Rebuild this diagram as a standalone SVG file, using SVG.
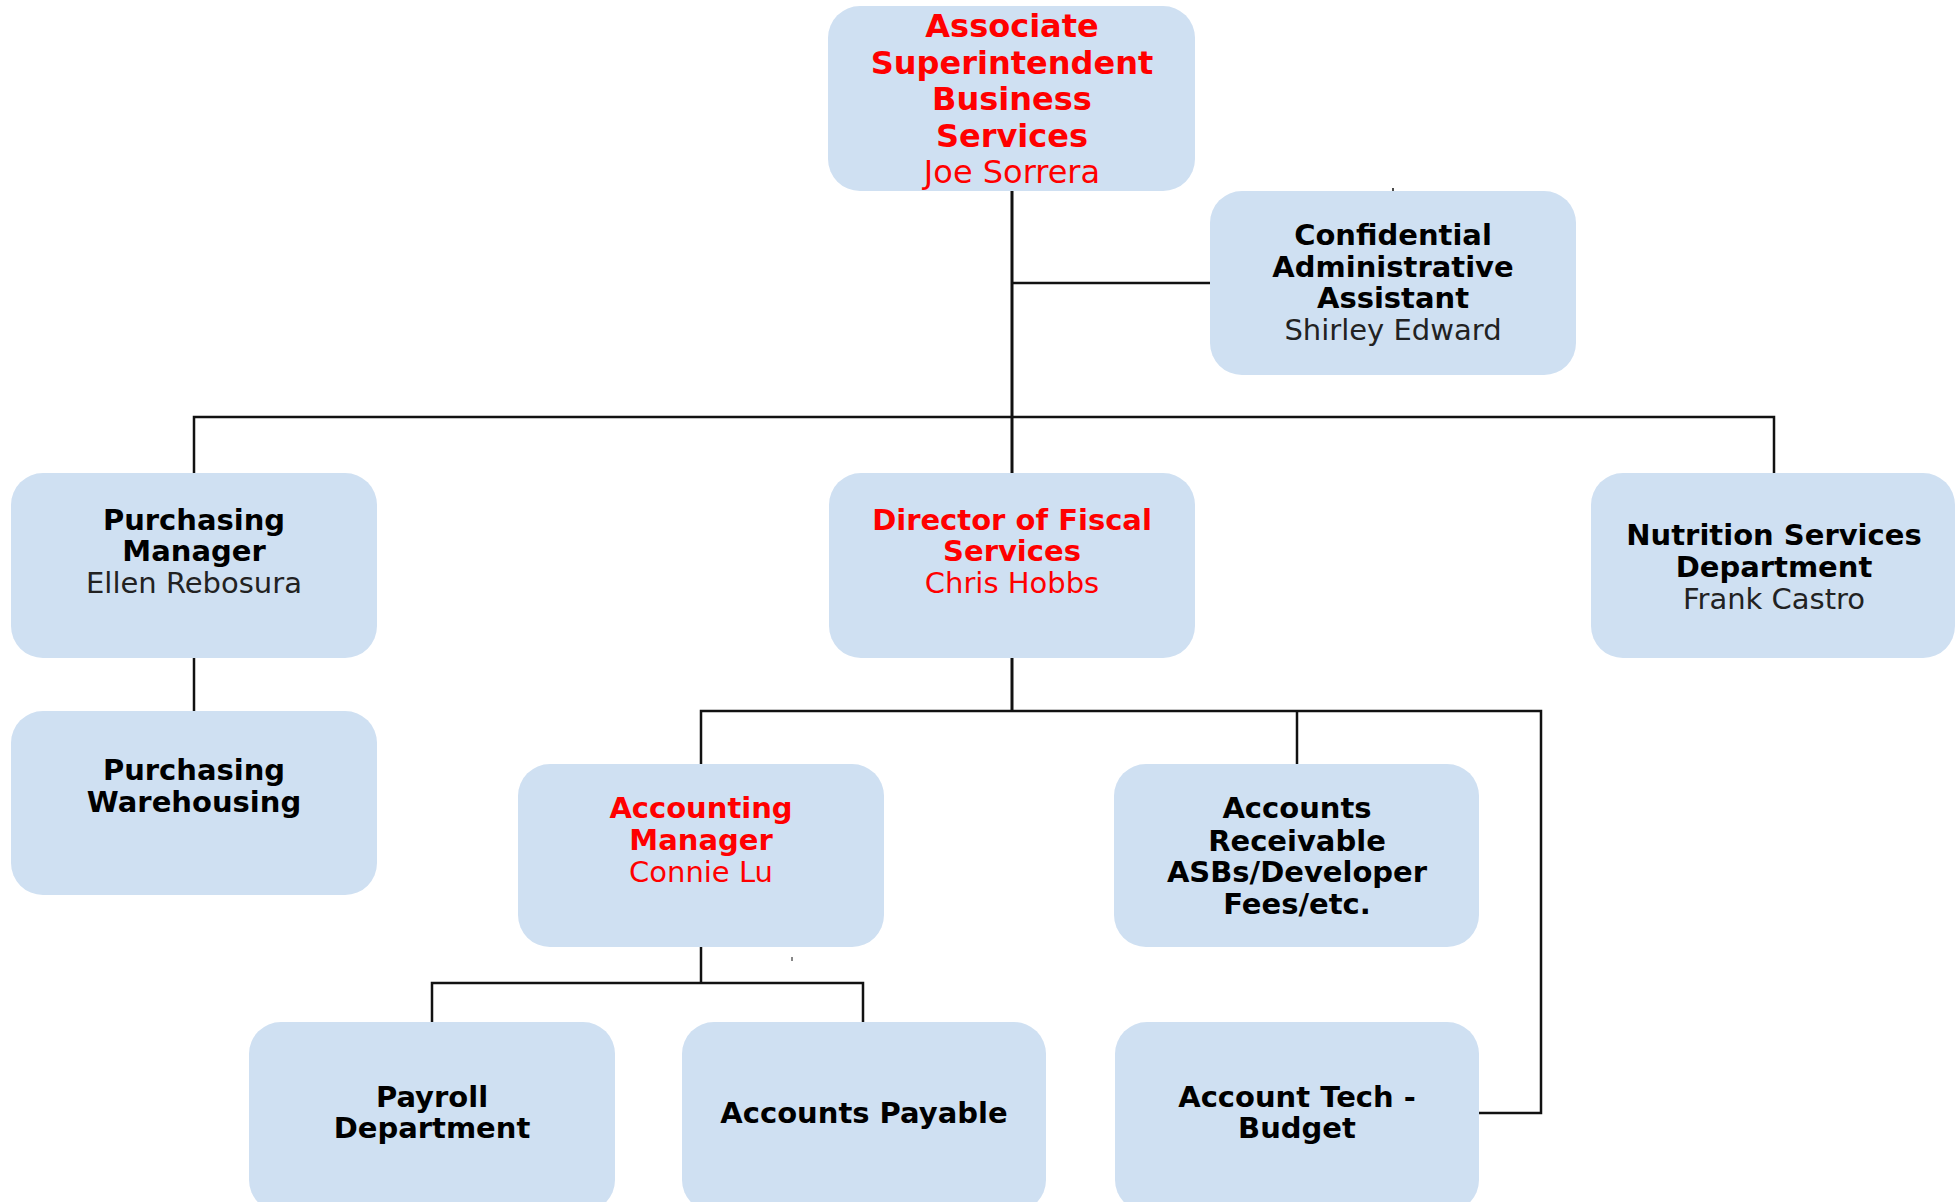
<svg xmlns="http://www.w3.org/2000/svg" width="1957" height="1202" viewBox="0 0 1957 1202">
<style>
.box{fill:#cfe0f2;}
.t{font-family:"DejaVu Sans","Verdana",sans-serif;font-size:29px;text-anchor:middle;}
.b{font-weight:bold;fill:#000;}
.n{fill:#222;}
.r{fill:#ff0000;}
.top{font-size:32px;}
.c{fill:none;stroke:#111;stroke-width:2.5;}
</style>
<rect width="1957" height="1202" fill="#fff"/>
<g id="connectors" class="c">
<line x1="1012" y1="191" x2="1012" y2="473" stroke-width="3"/>
<line x1="1012" y1="283" x2="1210" y2="283"/>
<polyline points="194,473 194,417 1774,417 1774,473"/>
<line x1="194" y1="658" x2="194" y2="711"/>
<line x1="1012" y1="658" x2="1012" y2="711" stroke-width="3"/>
<polyline points="701,764 701,711 1541,711 1541,1113 1479,1113"/>
<line x1="1297" y1="711" x2="1297" y2="764"/>
<line x1="701" y1="947" x2="701" y2="983"/>
<polyline points="432,1022 432,983 863,983 863,1022"/>
<line x1="1393" y1="188" x2="1393" y2="191" stroke-width="1.5"/>
<line x1="1603" y1="483" x2="1603" y2="487" stroke-width="1.5"/>
<line x1="792" y1="957" x2="792" y2="961" stroke-width="1"/>
</g>
<g id="assoc-super">
<rect class="box" x="828" y="6" width="367" height="185" rx="32"/>
<text class="t top b r" x="1012" y="37">Associate</text>
<text class="t top b r" x="1012" y="74">Superintendent</text>
<text class="t top b r" x="1012" y="110">Business</text>
<text class="t top b r" x="1012" y="147">Services</text>
<text class="t top r" x="1012" y="183">Joe Sorrera</text>
</g>
<g id="conf-admin">
<rect class="box" x="1210" y="191" width="366" height="184" rx="32"/>
<text class="t b" x="1393" y="245">Confidential</text>
<text class="t b" x="1393" y="277">Administrative</text>
<text class="t b" x="1393" y="308">Assistant</text>
<text class="t n" x="1393" y="340">Shirley Edward</text>
</g>
<g id="purch-mgr">
<rect class="box" x="11" y="473" width="366" height="185" rx="32"/>
<text class="t b" x="194" y="530">Purchasing</text>
<text class="t b" x="194" y="561">Manager</text>
<text class="t n" x="194" y="593">Ellen Rebosura</text>
</g>
<g id="director">
<rect class="box" x="829" y="473" width="366" height="185" rx="32"/>
<text class="t b r" x="1012" y="530">Director of Fiscal</text>
<text class="t b r" x="1012" y="561">Services</text>
<text class="t r" x="1012" y="593">Chris Hobbs</text>
</g>
<g id="nutrition">
<rect class="box" x="1591" y="473" width="364" height="185" rx="32"/>
<text class="t b" x="1774" y="545">Nutrition Services</text>
<text class="t b" x="1774" y="577">Department</text>
<text class="t n" x="1774" y="609">Frank Castro</text>
</g>
<g id="purch-ware">
<rect class="box" x="11" y="711" width="366" height="184" rx="32"/>
<text class="t b" x="194" y="780">Purchasing</text>
<text class="t b" x="194" y="812">Warehousing</text>
</g>
<g id="acct-mgr">
<rect class="box" x="518" y="764" width="366" height="183" rx="32"/>
<text class="t b r" x="701" y="818">Accounting</text>
<text class="t b r" x="701" y="850">Manager</text>
<text class="t r" x="701" y="882">Connie Lu</text>
</g>
<g id="acct-recv">
<rect class="box" x="1114" y="764" width="365" height="183" rx="32"/>
<text class="t b" x="1297" y="818">Accounts</text>
<text class="t b" x="1297" y="851">Receivable</text>
<text class="t b" x="1297" y="882">ASBs/Developer</text>
<text class="t b" x="1297" y="914">Fees/etc.</text>
</g>
<g id="payroll">
<rect class="box" x="249" y="1022" width="366" height="190" rx="32"/>
<text class="t b" x="432" y="1107">Payroll</text>
<text class="t b" x="432" y="1138">Department</text>
</g>
<g id="acct-pay">
<rect class="box" x="682" y="1022" width="364" height="190" rx="32"/>
<text class="t b" x="864" y="1123">Accounts Payable</text>
</g>
<g id="acct-tech">
<rect class="box" x="1115" y="1022" width="364" height="190" rx="32"/>
<text class="t b" x="1297" y="1107">Account Tech -</text>
<text class="t b" x="1297" y="1138">Budget</text>
</g>
</svg>
